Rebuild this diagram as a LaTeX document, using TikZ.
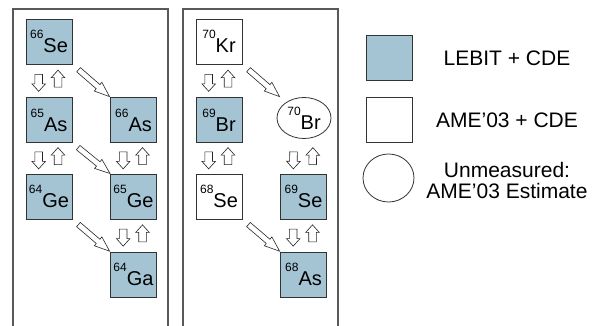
\documentclass[tikz,border=0pt]{standalone}
\usepackage{fontspec}
\setmainfont{Liberation Sans}
\usetikzlibrary{shapes.arrows,shapes.geometric,calc}
\definecolor{lebit}{RGB}{164,196,212}
\newcommand\iso[2]{\raisebox{14pt}{\fontsize{12}{12}\selectfont #1}#2}
\begin{document}
\begin{tikzpicture}[x=1pt,y=-1pt,
 panel/.style={draw=black!65,line width=1.2pt},
 nuc/.style={draw=black!80,line width=0.9pt,minimum width=46pt,minimum height=45pt,inner sep=0pt,font=\fontsize{20}{20}\selectfont},
 meas/.style={nuc,fill=lebit},
 ame/.style={nuc,fill=white},
 est/.style={nuc,ellipse,fill=white,minimum width=54pt,minimum height=41pt,line width=0.8pt},
 varr/.style={single arrow,draw=black!85,fill=white,line width=0.6pt,minimum height=17pt,minimum width=13pt,inner xsep=0pt,inner ysep=3.5pt,single arrow head extend=3pt,single arrow tip angle=84,sloped,allow upside down,midway},
 darr/.style={varr,minimum height=41pt,minimum width=11pt,inner ysep=2.5pt,single arrow head extend=3pt,single arrow tip angle=42},
 legtxt/.style={font=\fontsize{21}{21.6}\selectfont,align=center,inner sep=0pt}
]
\fill[white] (0,0) rectangle (600,326);
\useasboundingbox (0,0) rectangle (600,326);
% panels
\draw[panel] (13,328) |- (168,9) -- (168,328);
\draw[panel] (183,328) |- (338,9) -- (338,328);
% left panel
\node[meas] (se66) at (49,41.5) {\iso{66}{Se}};
\node[meas] (as65) at (49,120) {\iso{65}{As}};
\node[meas] (ge64) at (49,196.5) {\iso{64}{Ge}};
\node[meas] (as66) at (133.5,120) {\iso{66}{As}};
\node[meas] (ge65) at (133.5,196.5) {\iso{65}{Ge}};
\node[meas] (ga64) at (133.5,274.5) {\iso{64}{Ga}};
% right panel
\node[ame] (kr70) at (219,41.5) {\iso{70}{Kr}};
\node[meas] (br69) at (219,120) {\iso{69}{Br}};
\node[ame] (se68) at (219,196.5) {\iso{68}{Se}};
\node[est] (br70) at (304,118) {\iso{70}{Br}};
\node[meas] (se69) at (303.5,196.5) {\iso{69}{Se}};
\node[meas] (as68) at (303.5,274.5) {\iso{68}{As}};
% vertical arrow pairs
\newcommand\updown[2]{%
 \path ([xshift=-10.3pt]#1.south) -- ([xshift=-10.3pt]#2.north) node[varr]{};
 \path ([xshift=9pt]#2.north) -- ([xshift=9pt]#1.south) node[varr]{};}
\updown{se66}{as65}
\updown{as65}{ge64}
\updown{as66}{ge65}
\updown{ge65}{ga64}
\updown{kr70}{br69}
\updown{br69}{se68}
\updown{se69}{as68}
\path ($(br70.center |- br69.south)+(-10.3,0)$) -- ([xshift=-10.3pt]se69.north) node[varr]{};
\path ([xshift=9pt]se69.north) -- ($(br70.center |- br69.south)+(9,0)$) node[varr]{};
% diagonal arrows
\path (se66.south east) -- (as66.north west) node[darr]{};
\path (as65.south east) -- (ge65.north west) node[darr]{};
\path (ge64.south east) -- (ga64.north west) node[darr]{};
\path (kr70.south east) -- (se69.north west |- br69.north) node[darr]{};
\path (se68.south east) -- (as68.north west) node[darr]{};
% legend
\node[meas] (legm) at (389,57.5) {};
\node[ame] (lega) at (389,119.5) {};
\node[nuc,ellipse,fill=white,minimum width=51pt,minimum height=48pt,line width=0.8pt] (lege) at (388.5,178) {};
\node[legtxt] (legmt) at (507,58) {LEBIT + CDE};
\node[legtxt] (legat) at (507,120) {AME’03 + CDE};
\node[legtxt] (leget) at (507,180.5) {Unmeasured:\\AME’03 Estimate};
\end{tikzpicture}
\end{document}
